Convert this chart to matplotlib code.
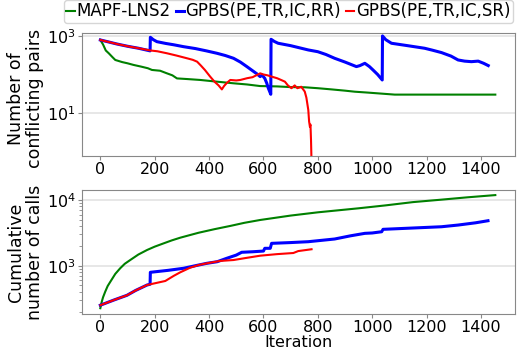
import matplotlib
matplotlib.use("Agg")
import matplotlib.pyplot as plt
import numpy as np

labels = ["MAPF-LNS2", "GPBS(PE,TR,IC,RR)", "GPBS(PE,TR,IC,SR)"]
colors = ["green", "blue", "red"]

# Top panel: number of conflicting pairs
lns_x = [0, 10, 20, 31, 45, 55, 80, 100, 122, 150, 175, 190, 220, 245, 265, 282, 320, 368, 420, 490,
         540, 588, 650, 700, 752, 800, 850, 900, 936, 980, 1030, 1083, 1200, 1300, 1453]
lns_y = [787, 600, 420, 355, 280, 238, 210, 195, 177, 160, 145, 131, 125, 107, 95, 79, 76, 72, 66, 59,
         55, 50, 49, 47, 46.5, 44, 41, 38, 35.7, 34, 32, 30, 30, 30, 30]

rr_x = [0, 30, 60, 100, 140, 183, 184, 195, 208, 240, 270, 306, 350, 390, 429, 460, 490, 515, 539, 560,
        575, 588, 595, 605, 612, 618, 627, 628, 640, 654, 700, 765, 800, 830, 862, 900, 942, 955, 973,
        990, 1003, 1020, 1037, 1038, 1050, 1071, 1130, 1193, 1220, 1255, 1290, 1316, 1340, 1365, 1390,
        1410, 1427]
rr_y = [787, 700, 620, 540, 480, 410, 923, 800, 711, 640, 590, 527, 470, 410, 355, 310, 263, 210, 160, 125,
        105, 88, 97, 79, 60, 44, 30.6, 820, 720, 646, 560, 433, 390, 330, 263, 210, 160, 170, 195,
        160, 131, 100, 72, 1000, 800, 646, 560, 479, 430, 370, 300, 238, 222, 215, 222,
        195, 170]

sr_x = [0, 30, 60, 100, 140, 184, 210, 245, 280, 319, 340, 356, 370, 385, 404, 420, 435, 447, 455, 465,
        478, 500, 515, 540, 560, 588, 600, 615, 630, 650, 665, 679, 690, 703, 715, 725, 739, 745, 752,
        758, 765, 768, 771, 773, 775, 777]
sr_y = [787, 700, 620, 540, 480, 420, 400, 355, 310, 263, 240, 215, 170, 130, 88, 65, 52, 41, 50, 60,
        72, 70, 72, 80, 85, 107, 100, 95, 88, 80, 72, 65, 52, 44, 52, 44, 48, 42, 36,
        25, 12, 6, 4.4, 5, 2, 0.5]

# Bottom panel: cumulative number of calls
lns_c_x = [0, 5, 10, 18, 27, 37, 55, 73, 90, 110, 140, 172, 200, 233, 263, 294, 330, 362, 420, 480, 530,
           588, 700, 800, 949, 1050, 1150, 1250, 1350, 1453]
lns_c_y = [225, 280, 330, 402, 490, 571, 750, 913, 1070, 1220, 1480, 1735, 1950, 2190, 2430, 2670, 2930,
           3180, 3600, 4050, 4500, 4970, 5800, 6500, 7480, 8300, 9300, 10100, 11000, 11900]

rr_c_x = [0, 50, 98, 130, 172, 183, 184, 250, 306, 350, 392, 430, 465, 500, 520, 560, 600, 605, 625, 630,
          700, 765, 862, 920, 973, 1000, 1035, 1040, 1150, 1255, 1316, 1380, 1426]
rr_c_y = [250, 300, 354, 420, 508, 521, 793, 850, 913, 1000, 1087, 1150, 1296, 1450, 1600, 1630, 1670, 1840,
          1840, 2190, 2250, 2320, 2550, 2850, 3110, 3150, 3290, 3580, 3750, 3920, 4160, 4500, 4840]

sr_c_x = [0, 50, 98, 130, 172, 184, 239, 270, 294, 330, 362, 392, 440, 490, 540, 588, 650, 710, 728, 777]
sr_c_y = [250, 300, 354, 420, 508, 521, 585, 700, 793, 930, 1025, 1087, 1180, 1220, 1320, 1420, 1500, 1560,
          1670, 1780]

plt.rcParams['font.family'] = ['DejaVu Sans']
plt.rcParams['font.size'] = 11

fig = plt.figure(figsize=(5.18, 3.5), dpi=100)
ax1 = fig.add_axes([0.158, 0.554, 0.836, 0.352])
ax2 = fig.add_axes([0.158, 0.103, 0.836, 0.354])

lw = [1.5, 2.2, 1.5]
h = []
for (x, y), c, l, w in zip([(lns_x, lns_y), (rr_x, rr_y), (sr_x, sr_y)], colors, labels, lw):
    line, = ax1.plot(x, y, color=c, lw=w, label=l)
    h.append(line)
for (x, y), c, w in zip([(lns_c_x, lns_c_y), (rr_c_x, rr_c_y), (sr_c_x, sr_c_y)], colors, lw):
    ax2.plot(x, y, color=c, lw=w)

ax1.set_yscale('log')
ax2.set_yscale('log')
ax1.set_ylim(0.76, 1200)
ax2.set_ylim(184, 14200)
ax1.set_yticks([10, 1000])
ax2.set_yticks([1000, 10000])
for ax in (ax1, ax2):
    ax.set_xlim(-68, 1525)
    ax.set_xticks([0, 200, 400, 600, 800, 1000, 1200, 1400])
    ax.grid(axis='y', color='#e3e3e3', lw=1.2)
    ax.set_axisbelow(True)
    for s in ax.spines.values():
        s.set_color('#888888')
    ax.tick_params(axis='both', which='both', color='#888888', length=3, labelsize=11.5, pad=1.5)
    ax.tick_params(axis='y', which='minor', length=2)
ax1.tick_params(axis='y', which='minor', left=False)

ax1.set_ylabel("Number of\nconflicting pairs", fontsize=12.5, linespacing=1.05)
ax2.set_ylabel("Cumulative\nnumber of calls", fontsize=12.5, linespacing=1.05)
ax1.yaxis.set_label_coords(-0.088, 0.467)
ax2.yaxis.set_label_coords(-0.088, 0.5)
ax2.set_xlabel("Iteration", fontsize=11.5)
ax2.xaxis.set_label_coords(0.5, -0.168)

fig.legend(handles=h, loc='upper center', bbox_to_anchor=(0.557, 1.005), ncol=3, fontsize=12,
           handlelength=0.5, handletextpad=0.1, columnspacing=0.3, borderpad=0.15,
           borderaxespad=0.1, frameon=True, edgecolor='#cccccc', fancybox=True)

fig.savefig("out.png", dpi=100)
